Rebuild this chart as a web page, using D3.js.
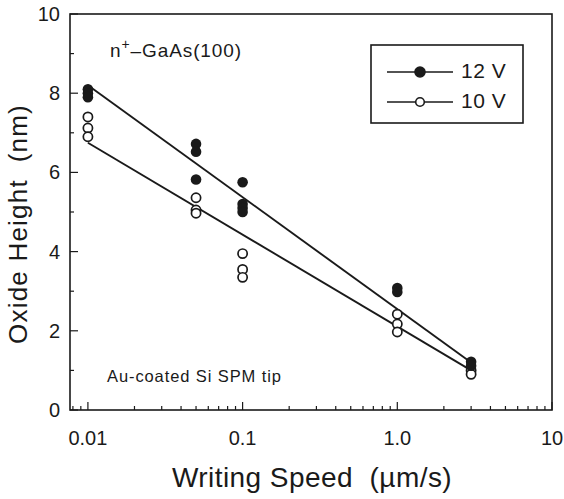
<!DOCTYPE html>
<html><head><meta charset="utf-8">
<script src="https://cdn.jsdelivr.net/npm/d3@7"></script>
<style>body{margin:0;background:#fff}svg{display:block}text{font-family:"Liberation Sans",Arial,sans-serif;fill:#1a1a1a}</style>
</head><body>
<script>
// Data
const speeds12 = [0.01,0.01,0.01,0.05,0.05,0.05,0.1,0.1,0.1,0.1,1.0,1.0,3,3];
const heights12 = [8.1,8.0,7.9,6.72,6.52,5.82,5.75,5.2,5.1,5.0,3.08,2.98,1.22,1.12];
const speeds10 = [0.01,0.01,0.01,0.05,0.05,0.05,0.1,0.1,0.1,1.0,1.0,1.0,3,3];
const heights10 = [7.4,7.12,6.9,5.36,5.05,4.97,3.95,3.55,3.35,2.42,2.17,1.97,1.0,0.9];
const fitX = [0.01, 3];
const fit12 = [8.2, 1.2];
const fit10 = [6.75, 1.0];
const xTickValues = [0.01, 0.1, 1, 10];
const xTickLabels = ["0.01", "0.1", "1.0", "10"];
const yTickValues = [0, 2, 4, 6, 8, 10];
const legendLabels = ["12 V", "10 V"];

const W = 564, H = 499;
const m = {l:70, r:12, t:14, b:89};
const svg = d3.select("body").append("svg").attr("width", W).attr("height", H);
const x = d3.scaleLog().domain([0.00766, 10]).range([m.l, W - m.r]);
const y = d3.scaleLinear().domain([0, 10]).range([H - m.b, m.t]);
const ink = "#1a1a1a";

// frame
svg.append("rect").attr("x", m.l).attr("y", m.t).attr("width", W - m.r - m.l).attr("height", H - m.b - m.t)
  .attr("fill", "none").attr("stroke", ink).attr("stroke-width", 1.6);

// x ticks (inward)
const minorX = [];
for (let e = -3; e <= 1; e++) for (let k = 1; k <= 9; k++) { const v = k * Math.pow(10, e); if (v >= 0.00766 && v <= 10) minorX.push(v); }
svg.append("g").selectAll("line").data(minorX).join("line")
  .attr("x1", d => x(d)).attr("x2", d => x(d))
  .attr("y1", y(0)).attr("y2", d => y(0) - (xTickValues.includes(d) ? 8 : 4))
  .attr("stroke", ink).attr("stroke-width", 1.2);
svg.append("g").selectAll("text").data(xTickValues).join("text")
  .attr("x", d => x(d)).attr("y", 445).attr("text-anchor", "middle")
  .attr("font-size", 20).text((d, i) => xTickLabels[i]);

// y ticks
const minorY = d3.range(0, 11, 1);
svg.append("g").selectAll("line").data(minorY).join("line")
  .attr("x1", m.l).attr("x2", d => m.l + (d % 2 === 0 ? 8 : 4))
  .attr("y1", d => y(d)).attr("y2", d => y(d))
  .attr("stroke", ink).attr("stroke-width", 1.2);
svg.append("g").selectAll("text").data(yTickValues).join("text")
  .attr("x", 60).attr("y", d => y(d) + 7).attr("text-anchor", "end")
  .attr("font-size", 20).text(d => d);

// axis titles
svg.append("text").attr("x", 312).attr("y", 487).attr("text-anchor", "middle").attr("font-size", 28)
  .style("white-space", "pre").attr("letter-spacing", 0.45).text("Writing Speed  (\u00b5m/s)");
svg.append("text").attr("transform", "translate(27," + 224 + ") rotate(-90)")
  .attr("text-anchor", "middle").attr("font-size", 26).style("white-space", "pre")
  .attr("letter-spacing", 1.2).text("Oxide Height  (nm)");

// fit lines
const line = d3.line().x(d => x(d[0])).y(d => y(d[1]));
svg.append("path").attr("d", line(fitX.map((v, i) => [v, fit12[i]]))).attr("stroke", ink).attr("stroke-width", 1.9).attr("fill", "none");
svg.append("path").attr("d", line(fitX.map((v, i) => [v, fit10[i]]))).attr("stroke", ink).attr("stroke-width", 1.9).attr("fill", "none");

// points
svg.append("g").selectAll("circle").data(speeds10.map((v, i) => [v, heights10[i]])).join("circle")
  .attr("cx", d => x(d[0])).attr("cy", d => y(d[1])).attr("r", 4.6)
  .attr("fill", "#fff").attr("stroke", ink).attr("stroke-width", 1.7);
svg.append("g").selectAll("circle").data(speeds12.map((v, i) => [v, heights12[i]])).join("circle")
  .attr("cx", d => x(d[0])).attr("cy", d => y(d[1])).attr("r", 5.3)
  .attr("fill", ink);

// annotations
const t1 = svg.append("text").attr("x", 110).attr("y", 57).attr("font-size", 19).attr("letter-spacing", 0.9);
t1.append("tspan").text("n");
t1.append("tspan").attr("dy", -8).attr("font-size", 14).text("+");
t1.append("tspan").attr("dy", 8).text("\u2013GaAs(100)");
svg.append("text").attr("x", 107).attr("y", 382).attr("font-size", 16.5).attr("letter-spacing", 0.9).text("Au-coated Si SPM tip");

// legend
svg.append("rect").attr("x", 371).attr("y", 45).attr("width", 152).attr("height", 78)
  .attr("fill", "#fff").attr("stroke", ink).attr("stroke-width", 1.6);
legendLabels.forEach((lab, i) => {
  const ly = 72 + i * 30;
  svg.append("line").attr("x1", 387).attr("x2", 453).attr("y1", ly).attr("y2", ly).attr("stroke", ink).attr("stroke-width", 1.6);
  svg.append("circle").attr("cx", 420).attr("cy", ly).attr("r", i === 0 ? 5 : 4.3)
    .attr("fill", i === 0 ? ink : "#fff").attr("stroke", ink).attr("stroke-width", 1.6);
  svg.append("text").attr("x", 461).attr("y", ly + 6).attr("font-size", 21).attr("letter-spacing", 0.5).text(lab);
});
</script>
</body></html>
